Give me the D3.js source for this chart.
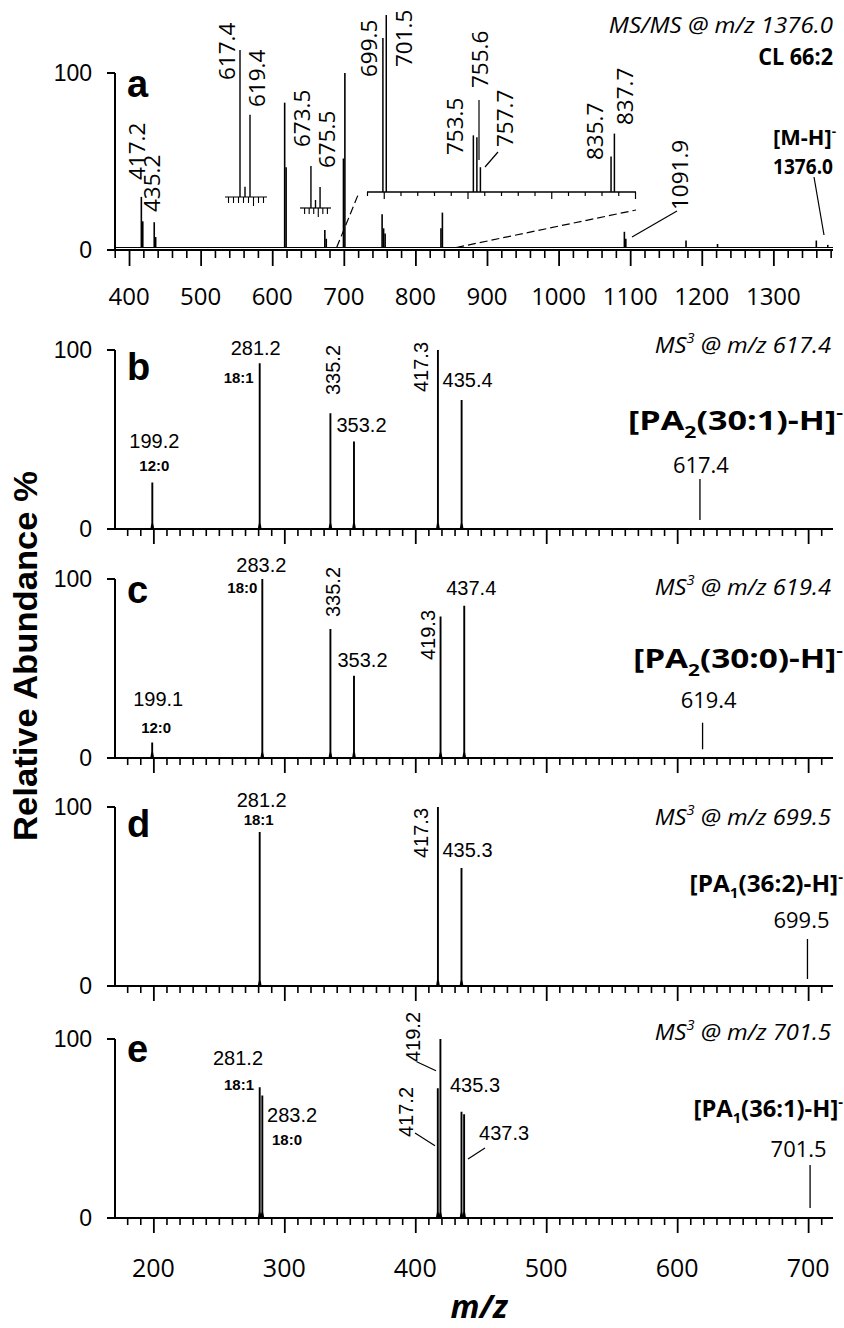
<!DOCTYPE html>
<html>
<head>
<meta charset="utf-8">
<script src="https://cdn.jsdelivr.net/npm/d3@7"></script>
<style>
  html, body { margin: 0; padding: 0; background: #fff; }
  svg { display: block; }
</style>
</head>
<body>
<svg id="chart" width="844" height="1328"></svg>
<script>
// ---------------- spectra (m/z, relative abundance %) ----------------
// (a) MS/MS of the [M-H]- ion of CL 66:2, m/z 1376.0
const aMz  = [417.2, 419.2, 435.2, 437.2, 617.4, 619.4, 673.5, 675.5, 699.5, 701.5,
              753.5, 755.6, 757.7, 835.7, 837.7, 1091.9, 1093.9, 1178.0, 1222.0, 1360.0, 1376.0];
const aInt = [29, 15, 14.5, 6, 83, 46, 10, 5, 51, 100,
              19, 11, 8, 11, 20, 9, 5, 4, 2, 4, 1.5];
// expanded views inside panel (a)
const zoomMz   = [699.5, 701.5, 753.5, 755.6, 757.7, 835.7, 837.7];
const zoomInt  = [87, 100, 32, 31, 14, 20, 33];
const ins617Mz  = [617.4, 618.4, 619.4];
const ins617Int = [100, 7, 56];
const ins673Mz  = [673.5, 674.5, 675.5];
const ins673Int = [100, 19, 50];

// (b)-(e) MS3 spectra
const bMz  = [199.2, 281.2, 335.2, 353.2, 417.3, 435.4];
const bInt = [26, 92.6, 64.7, 48.9, 100, 72];
const cMz  = [199.1, 283.2, 335.2, 353.2, 419.3, 437.4];
const cInt = [8.7, 100, 72, 46, 79, 85];
const dMz  = [281.2, 417.3, 435.3];
const dInt = [86, 100, 65.9];
const eMz  = [281.2, 283.2, 417.2, 419.2, 435.3, 437.3];
const eInt = [73, 68.4, 72.5, 100, 59.4, 58];

const precursors = [617.4, 619.4, 699.5, 701.5];
const topTicks    = [400, 500, 600, 700, 800, 900, 1000, 1100, 1200, 1300];
const bottomTicks = [200, 300, 400, 500, 600, 700];
const yTicks      = [0, 100];

// ---------------- fonts & helpers ----------------
const FA = "'Liberation Sans', Arial, Helvetica, sans-serif";
const FC = "'Open Sans', 'Noto Sans', sans-serif";
const svg = d3.select('#chart');

function seg(parent, x1, y1, x2, y2, w, dash) {
  const l = parent.append('line')
    .attr('x1', x1).attr('y1', y1).attr('x2', x2).attr('y2', y2)
    .attr('stroke', '#000').attr('stroke-width', w || 1);
  if (dash) l.attr('stroke-dasharray', dash);
  return l;
}

// text built from segments (sub/sup in em); an optional target width is
// reached by a horizontal scale so the glyph height stays at the given size
function addText(parent, segs, x, y, o) {
  const size = o.size || 20;
  const t = parent.append('text')
    .attr('text-anchor', o.anchor || 'start')
    .attr('fill', '#000')
    .style('font-family', o.family || FC)
    .style('font-size', size + 'px')
    .style('font-weight', o.weight || 'normal')
    .style('font-style', o.italic ? 'italic' : 'normal');
  if (typeof segs === 'string') segs = [{ t: segs }];
  let shift = 0;
  segs.forEach(s => {
    const small = s.sub || s.sup;
    const k = small ? 0.62 : 1;
    const target = s.sub ? 0.3 : s.sup ? -0.45 : 0;
    const sp = t.append('tspan').text(s.t);
    if (small) sp.style('font-size', k + 'em');
    if (target !== shift) sp.attr('dy', ((target - shift) / k).toFixed(3) + 'em');
    shift = target;
  });
  let sx = 1;
  if (o.width) {
    const w = t.node().getBBox().width;
    if (w > 0) sx = o.width / w;
  }
  const rot = o.rotate ? ' rotate(-90)' : '';
  t.attr('transform', `translate(${x},${y})${rot}` + (sx !== 1 ? ` scale(${sx.toFixed(4)},1)` : ''));
  return t;
}

// stick with a slightly broadened foot
function stickPath(x, yTop, yBase, w) {
  const h = w / 2, foot = Math.min(6, yBase - yTop);
  return `M${x - h * 2},${yBase}L${x - h},${yBase - foot}L${x - h},${yTop}` +
         `L${x + h},${yTop}L${x + h},${yBase - foot}L${x + h * 2},${yBase}Z`;
}

function tickAxis(parent, scale, y, values, len, width) {
  const ax = parent.append('g').attr('transform', `translate(0,${y})`)
    .call(d3.axisBottom(scale).tickValues(values).tickSize(len).tickSizeOuter(0).tickFormat(''));
  ax.select('.domain').remove();
  ax.selectAll('line').attr('stroke', '#000').attr('stroke-width', width);
  ax.selectAll('text').remove();
  return ax;
}

// ---------------- geometry ----------------
const X0 = 115, X1 = 833;
const xA = d3.scaleLinear().domain([380.4, 1383.3]).range([X0, X1]);
const yA = d3.scaleLinear().domain([0, 100]).range([247.5, 73]);
const xB = d3.scaleLinear().domain([170.7, 719.0]).range([X0, X1]);
const PH = 179;

// ---------------- panel (a) ----------------
const pa = svg.append('g');
seg(pa, X0, 73, X0, 251, 2);
seg(pa, 107, 73, X0, 73, 2);
seg(pa, 107, 250, X1, 250, 2);
seg(pa, X0, 247.5, X1, 247.5, 1);
tickAxis(pa, xA, 250, d3.range(380, 1381, 20).filter(v => v % 100 !== 0), 8, 1.6);
tickAxis(pa, xA, 250, topTicks, 16, 1.8);
pa.selectAll('text.xt').data(topTicks).join('text').attr('class', 'xt')
  .attr('x', d => xA(d)).attr('y', 305).attr('text-anchor', 'middle')
  .style('font-family', FC).style('font-size', '24px').text(d => d);

pa.selectAll('text.yt').data(yTicks).join('text').attr('class', 'yt')
  .attr('x', 92).attr('y', d => (d === 0 ? 250 : yA(d)) + 8).attr('text-anchor', 'end')
  .style('font-family', FA).style('font-size', '23px').text(d => d);

pa.selectAll('line.pk').data(aMz).join('line').attr('class', 'pk')
  .attr('x1', d => xA(d)).attr('x2', d => xA(d))
  .attr('y1', yA(0)).attr('y2', (d, i) => yA(aInt[i]))
  .attr('stroke', '#000').attr('stroke-width', 1.6);

// expanded region 690-850
const xZ = d3.scaleLinear().domain([690, 850]).range([367, 635]);
const yZ = d3.scaleLinear().domain([0, 100]).range([192, 15]);
seg(pa, 367, 192, 636, 192, 1.3);
tickAxis(pa, xZ, 192, d3.range(690, 851, 10).filter(v => v % 50 !== 0), 4, 1.2);
tickAxis(pa, xZ, 192, [700, 750, 800, 850], 7, 1.2);
pa.selectAll('line.zp').data(zoomMz).join('line').attr('class', 'zp')
  .attr('x1', d => xZ(d)).attr('x2', d => xZ(d))
  .attr('y1', yZ(0)).attr('y2', (d, i) => yZ(zoomInt[i]))
  .attr('stroke', '#000').attr('stroke-width', 1.5);
seg(pa, xA(690), 247.5, 358, 195, 1.2, '8,4');
seg(pa, xA(857), 247.5, 636, 210, 1.2, '8,4');

// small expanded views of the PA fragment pairs
function miniInset(mz, vals, dom, rng, yBase, yTop, ticks, major) {
  const xs = d3.scaleLinear().domain(dom).range(rng);
  const ys = d3.scaleLinear().domain([0, 100]).range([yBase, yTop]);
  seg(pa, rng[0], yBase, rng[1], yBase, 1.2);
  tickAxis(pa, xs, yBase, ticks.filter(v => v !== major), 6, 1.1);
  tickAxis(pa, xs, yBase, [major], 9, 1.1);
  pa.append('g').selectAll('line').data(mz).join('line')
    .attr('x1', d => xs(d)).attr('x2', d => xs(d))
    .attr('y1', ys(0)).attr('y2', (d, i) => ys(vals[i]))
    .attr('stroke', '#000').attr('stroke-width', 1.4);
}
miniInset(ins617Mz, ins617Int, [614.4, 622.8], [225, 267], 197, 50, d3.range(615, 623), 620);
miniInset(ins673Mz, ins673Int, [671.1, 677.9], [300, 331], 208, 166, d3.range(672, 678), 675);

// peak labels (rotated)
const aLabels = [
  ['417.2', 145, 180], ['435.2', 160, 212], ['617.4', 235, 80], ['619.4', 265, 107],
  ['673.5', 310, 147], ['675.5', 335, 168], ['699.5', 377, 77], ['701.5', 412, 67],
  ['753.5', 463, 155], ['755.6', 488, 88], ['757.7', 513, 147], ['835.7', 603, 160],
  ['837.7', 633, 125], ['1091.9', 688, 210]
];
aLabels.forEach(([s, x, y]) => addText(pa, s, x, y, { size: 22.5, rotate: true }));
seg(pa, 479, 100, 479, 160, 1.2);
seg(pa, 498, 152, 485, 167, 1.2);
seg(pa, 677, 211, 632, 237, 1.2);
seg(pa, 814, 177, 824, 235, 1.2);

addText(pa, 'MS/MS @ m/z 1376.0', 833, 33, { anchor: 'end', italic: true, size: 22.5, width: 225 });
addText(pa, 'CL 66:2', 833, 65, { anchor: 'end', weight: 'bold', size: 22.5, width: 75 });
addText(pa, [{ t: '[M-H]' }, { t: '-', sup: true }], 836, 145, { anchor: 'end', weight: 'bold', size: 21, width: 63 });
addText(pa, '1376.0', 833, 174, { anchor: 'end', weight: 'bold', size: 21.5, width: 60 });
addText(pa, 'a', 127, 97, { family: FA, weight: 'bold', size: 38 });

// ---------------- panels (b)-(e) ----------------
const ms3Panels = [
  { letter: 'b', top: 350, letterY: 30, mz: bMz, int: bInt, prec: 617.4, ion: ['PA', '2', '(30:1)-H]'],
    headY: 353, ionY: 430, ionW: 215, ionSize: 26, precLbl: [1, 473], mark: [129, 170],
    labels: [
      ['199.2', 199.2, 2, 448, 'middle', 'n'], ['12:0', 199.2, 2, 471, 'middle', 'b'],
      ['281.2', 281.2, -4, 355, 'middle', 'n'], ['18:1', 281.2, -6, 383, 'end', 'b'],
      ['335.2', 335.2, 9.6, 395, 'start', 'r'], ['353.2', 353.2, 7.5, 432, 'middle', 'n'],
      ['417.3', 417.3, -10, 392, 'start', 'r'], ['435.4', 435.4, 6, 387, 'middle', 'n']
    ], leaders: [] },
  { letter: 'c', top: 579, letterY: 24, mz: cMz, int: cInt, prec: 619.4, ion: ['PA', '2', '(30:0)-H]'],
    headY: 595, ionY: 668, ionW: 210, ionSize: 26, precLbl: [6, 708], mark: [143.7, 170.3],
    labels: [
      ['199.1', 199.1, 6, 706, 'middle', 'n'], ['12:0', 199.1, 4, 733, 'middle', 'b'],
      ['283.2', 283.2, -1, 571.7, 'middle', 'n'], ['18:0', 283.2, -5, 593, 'end', 'b'],
      ['335.2', 335.2, 9.6, 617, 'start', 'r'], ['353.2', 353.2, 8.5, 666.7, 'middle', 'n'],
      ['419.3', 419.3, -5.5, 660, 'start', 'r'], ['437.4', 437.4, 7, 595, 'middle', 'n']
    ], leaders: [] },
  { letter: 'd', top: 807, letterY: 30, mz: dMz, int: dInt, prec: 699.5, ion: ['PA', '1', '(36:2)-H]'],
    headY: 825, ionY: 891.7, ionW: 154, ionSize: 22.5, precLbl: [-6, 928], mark: [132, 172],
    labels: [
      ['281.2', 281.2, 2, 806.7, 'middle', 'n'], ['18:1', 281.2, -1, 825, 'middle', 'b'],
      ['417.3', 417.3, -10, 858, 'start', 'r'], ['435.3', 435.3, 6, 856.7, 'middle', 'n']
    ], leaders: [] },
  { letter: 'e', top: 1039, letterY: 23, mz: eMz, int: eInt, prec: 701.5, ion: ['PA', '1', '(36:1)-H]'],
    headY: 1040, ionY: 1116.7, ionW: 150, ionSize: 22.5, precLbl: [-11.5, 1156.7], mark: [126, 169],
    labels: [
      ['281.2', 281.2, -21.7, 1065, 'middle', 'n'], ['18:1', 281.2, -5.7, 1090, 'end', 'b'],
      ['283.2', 283.2, 4.7, 1122, 'start', 'n'], ['18:0', 283.2, 9.7, 1145, 'start', 'b'],
      ['419.2', 419.2, -20.4, 1062, 'start', 'r'], ['417.2', 417.2, -24.8, 1137, 'start', 'r'],
      ['435.3', 435.3, 13.5, 1092, 'middle', 'n'], ['437.3', 437.3, 15, 1140, 'start', 'n']
    ], leaders: [[416.7, 1061.7, 436, 1070.7], [415, 1133, 435, 1145.7], [485, 1148, 468, 1159]] }
];

ms3Panels.forEach((p, idx) => {
  const g = svg.append('g');
  const y = d3.scaleLinear().domain([0, 100]).range([p.top + PH, p.top]);
  const y0 = y(0);
  seg(g, X0, p.top, X0, y0, 2);
  seg(g, 107, p.top, X0, p.top, 2);
  seg(g, 107, y0, X1, y0, 2);
  tickAxis(g, xB, y0, d3.range(180, 720, 10).filter(v => v % 100 !== 0), 7, 1.6);
  tickAxis(g, xB, y0, bottomTicks, 15, 1.8);

  g.selectAll('text.yt').data(yTicks).join('text').attr('class', 'yt')
    .attr('x', 92).attr('y', d => y(d) + 8).attr('text-anchor', 'end')
    .style('font-family', FA).style('font-size', '23px').text(d => d);

  g.selectAll('path.pk').data(p.mz).join('path').attr('class', 'pk')
    .attr('d', (d, i) => stickPath(xB(d), y(p.int[i]), y0, 1.9))
    .attr('fill', '#000');

  // precursor position marker
  seg(g, xB(p.prec), p.top + p.mark[0], xB(p.prec), p.top + p.mark[1], 1.3);
  addText(g, d3.format('.1f')(p.prec), xB(p.prec) + p.precLbl[0], p.precLbl[1], { anchor: 'middle', size: 22.5, width: 56 });

  p.labels.forEach(([s, mz, dx, ly, anchor, kind]) => {
    if (kind === 'r') addText(g, s, xB(mz) + dx, ly, { family: FA, size: 20, rotate: true });
    else if (kind === 'b') addText(g, s, xB(mz) + dx, ly, { family: FA, size: 15, weight: 'bold', anchor });
    else addText(g, s, xB(mz) + dx, ly, { family: FA, size: 20, anchor });
  });
  p.leaders.forEach(([x1, y1, x2, y2]) => seg(g, x1, y1, x2, y2, 1.2));

  addText(g, [{ t: 'MS' }, { t: '3', sup: true }, { t: ' @ m/z ' + d3.format('.1f')(p.prec) }],
    831, p.headY, { anchor: 'end', italic: true, size: 22.5, width: 177 });
  addText(g, [{ t: '[' + p.ion[0] }, { t: p.ion[1], sub: true }, { t: p.ion[2] }, { t: '-', sup: true }],
    843, p.ionY, { anchor: 'end', weight: 'bold', size: p.ionSize, width: p.ionW });
  addText(g, p.letter, 127, p.top + p.letterY, { family: FA, weight: 'bold', size: 38 });

  if (idx === ms3Panels.length - 1) {
    g.selectAll('text.xt').data(bottomTicks).join('text').attr('class', 'xt')
      .attr('x', d => xB(d)).attr('y', 1277).attr('text-anchor', 'middle')
      .style('font-family', FC).style('font-size', '25px').text(d => d);
  }
});

// ---------------- axis titles ----------------
addText(svg, 'm/z', 479, 1318, { anchor: 'middle', weight: 'bold', italic: true, size: 32 });
addText(svg, 'Relative Abundance %', 37, 656, { anchor: 'middle', family: FA, weight: 'bold', size: 34, rotate: true, width: 370 });
</script>
</body>
</html>
